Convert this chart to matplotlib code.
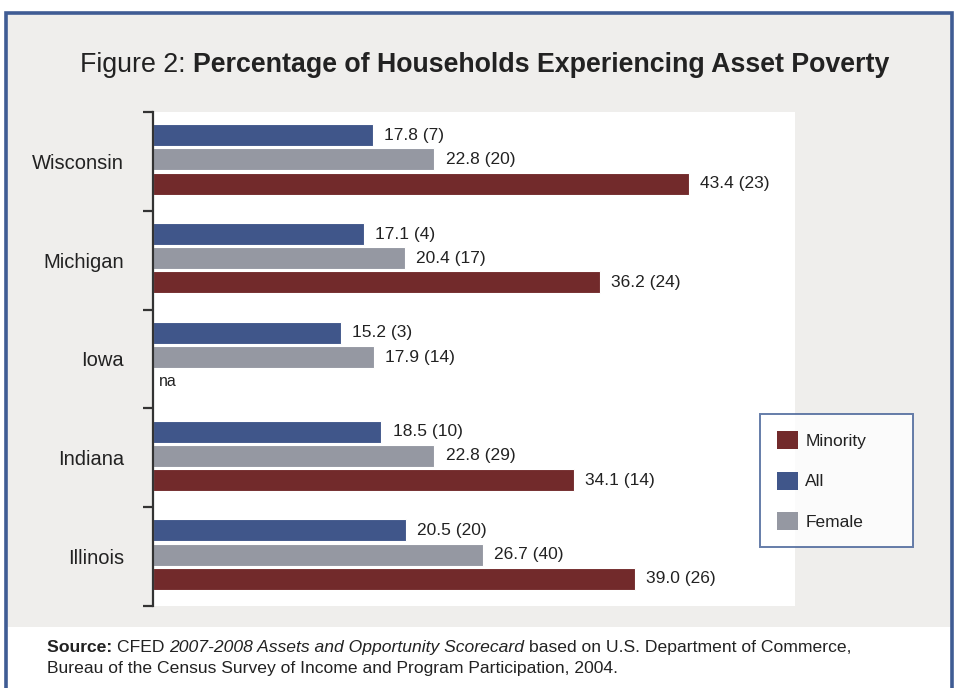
import matplotlib
matplotlib.use("Agg")
import matplotlib.pyplot as plt
from matplotlib.patches import Rectangle, Patch
import numpy as np

# data: value and state rank in parentheses
states = ["Wisconsin", "Michigan", "Iowa", "Indiana", "Illinois"]
all_vals = [17.8, 17.1, 15.2, 18.5, 20.5]
all_rank = [7, 4, 3, 10, 20]
female_vals = [22.8, 20.4, 17.9, 22.8, 26.7]
female_rank = [20, 17, 14, 29, 40]
minority_vals = [43.4, 36.2, np.nan, 34.1, 39.0]
minority_rank = [23, 24, None, 14, 26]

C_MIN = "#722a2b"
C_ALL = "#40568a"
C_FEM = "#9598a2"
FRAME = "#3f5c94"
PANEL = "#efeeec"
TXT = "#222222"

plt.rcParams["font.family"] = ["Liberation Sans", "DejaVu Sans"]

W, H = 964, 688
fig = plt.figure(figsize=(W / 100, H / 100), dpi=100)


def fx(px):
    return px / W


def fy(py):
    return 1 - py / H


# grey panel and blue frame
fig.add_artist(Rectangle((fx(6), fy(627)), fx(952) - fx(6), fy(13) - fy(627),
                         transform=fig.transFigure, facecolor=PANEL,
                         edgecolor="none", zorder=0))
fig.add_artist(Rectangle((fx(6), -0.1), fx(952) - fx(6), fy(13) + 0.1,
                         transform=fig.transFigure, facecolor="none",
                         edgecolor=FRAME, linewidth=2.6, zorder=5))

# plot area
ax = fig.add_axes([fx(153), fy(606), fx(795) - fx(153), fy(112) - fy(606)])
ax.set_facecolor("white")
ax.set_xlim(0, 52)
ax.set_ylim(5, 0)

y = np.arange(len(states)) + 0.5 - 0.02
h = 0.222
off = 0.245
ax.barh(y - off, all_vals, height=h, color=C_ALL, edgecolor="white", linewidth=0.8)
ax.barh(y, female_vals, height=h, color=C_FEM, edgecolor="white", linewidth=0.8)
ax.barh(y + off, minority_vals, height=h, color=C_MIN, edgecolor="white", linewidth=0.8)

pad = 0.9
for i in range(len(states)):
    ax.text(all_vals[i] + pad, y[i] - off, f"{all_vals[i]:.1f} ({all_rank[i]})",
            va="center", ha="left", fontsize=12.5, color=TXT)
    ax.text(female_vals[i] + pad, y[i], f"{female_vals[i]:.1f} ({female_rank[i]})",
            va="center", ha="left", fontsize=12.5, color=TXT)
    if np.isnan(minority_vals[i]):
        ax.text(0.5, y[i] + off, "na", va="center", ha="left", fontsize=11.5, color=TXT)
    else:
        ax.text(minority_vals[i] + pad, y[i] + off,
                f"{minority_vals[i]:.1f} ({minority_rank[i]})",
                va="center", ha="left", fontsize=12.5, color=TXT)

for s in ["top", "right", "bottom"]:
    ax.spines[s].set_visible(False)
ax.spines["left"].set_color("#333333")
ax.spines["left"].set_linewidth(1.6)
ax.set_xticks([])
ax.set_yticks(np.arange(len(states) + 1))
ax.set_yticklabels([])
ax.tick_params(axis="y", which="major", length=7.5, width=1.6, color="#333333")
ax.set_yticks(np.arange(len(states)) + 0.5, minor=True)
ax.set_yticklabels(states, minor=True, fontsize=14.5, color=TXT)
ax.tick_params(axis="y", which="minor", length=0, pad=21)

# legend
handles = [Patch(facecolor=C_MIN, edgecolor="none", label="Minority"),
           Patch(facecolor=C_ALL, edgecolor="none", label="All"),
           Patch(facecolor=C_FEM, edgecolor="none", label="Female")]
leg = fig.legend(handles=handles, loc="upper left",
                 bbox_to_anchor=(fx(760), fy(414) - 0.01, fx(913) - fx(760), 0.01),
                 mode="expand", fontsize=12.5,
                 frameon=True, fancybox=False, edgecolor=FRAME,
                 handlelength=1.2, handleheight=1.2, handletextpad=0.4,
                 labelspacing=1.3, borderpad=1.0, borderaxespad=0)
leg.get_frame().set_linewidth(1.4)
leg.get_frame().set_facecolor("white")
for t in leg.get_texts():
    t.set_color(TXT)

fig.canvas.draw()
renderer = fig.canvas.get_renderer()


def rich(x_px, y_px, parts, size, center=False):
    # draw text pieces one after another on the same baseline
    texts = []
    for s, kw in parts:
        texts.append(fig.text(0, fy(y_px), s, fontsize=size, va="baseline",
                              color=TXT, **kw))
    widths = [t.get_window_extent(renderer).width for t in texts]
    x = x_px - sum(widths) / 2 if center else x_px
    for t, w in zip(texts, widths):
        t.set_x(fx(x))
        x += w


rich(485, 72, [("Figure 2: ", {}),
               ("Percentage of Households Experiencing Asset Poverty", {"fontweight": "bold"})],
     19.3, center=True)

rich(47, 652, [("Source: ", {"fontweight": "bold"}),
               ("CFED ", {}),
               ("2007-2008 Assets and Opportunity Scorecard ", {"style": "italic"}),
               ("based on U.S. Department of Commerce,", {})], 12.6)
rich(47, 673, [("Bureau of the Census Survey of Income and Program Participation, 2004.", {})],
     12.6)

fig.savefig("out.png", dpi=100, facecolor="white")
